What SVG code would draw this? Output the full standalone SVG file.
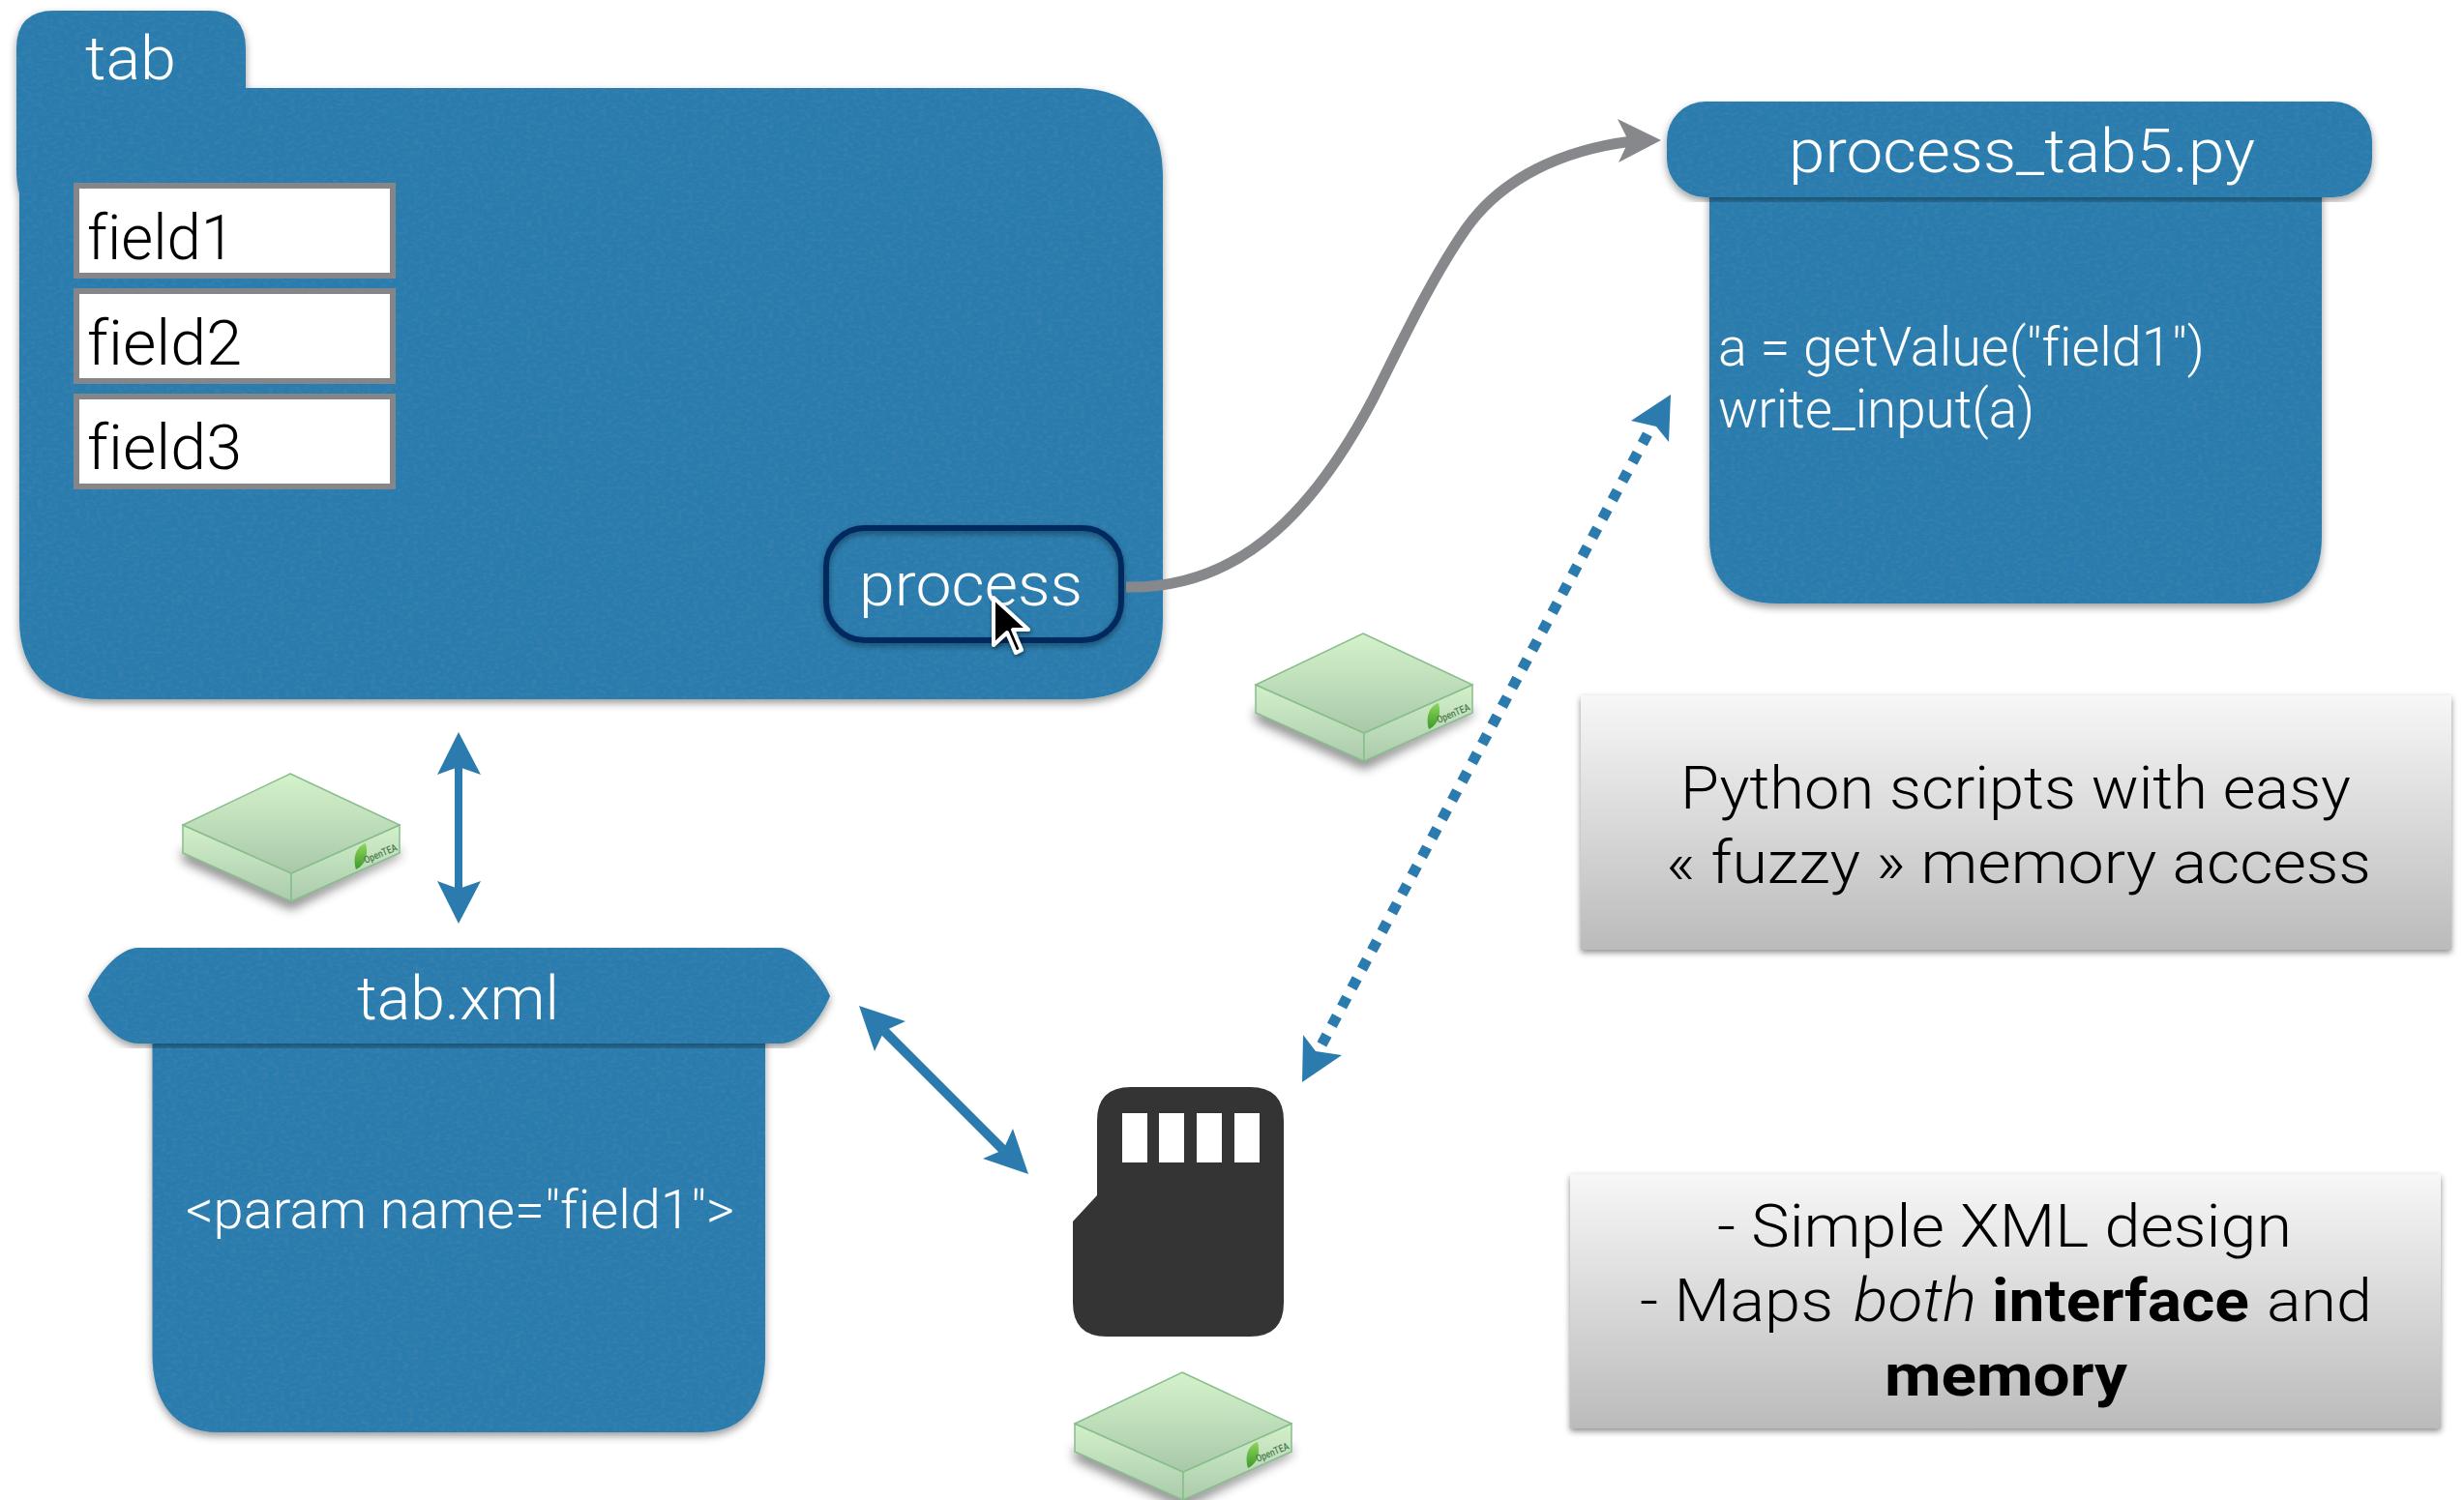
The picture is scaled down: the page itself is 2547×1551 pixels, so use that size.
<svg xmlns="http://www.w3.org/2000/svg" width="2547" height="1551" viewBox="0 0 2547 1551">
<style>
text{font-family:Roboto,"Liberation Sans",Arial,sans-serif;font-weight:300;font-variant-ligatures:none;}
.w{fill:#fff}.k{fill:#000}
.blue{fill:#2c7bae;filter:url(#paper)}
.field{fill:#fff;stroke:#85868a;stroke-width:6}
.slot{fill:#fff}
.tea{font-size:10.5px;font-weight:500;fill:#4f7a4f}
.note{fill:url(#noteGrad);filter:url(#soft)}
.bl{fill:#2c7bae}
</style>
<defs>
<linearGradient id="noteGrad" x1="0" y1="0" x2="0" y2="1"><stop offset="0" stop-color="#f7f7f7"/><stop offset="1" stop-color="#bbbbbb"/></linearGradient>
<linearGradient id="faceTop" x1="0" y1="0" x2="0" y2="1"><stop offset="0" stop-color="#d4f3cb"/><stop offset="1" stop-color="#a9c8a9"/></linearGradient>
<linearGradient id="faceSide" x1="0" y1="0" x2="0" y2="1"><stop offset="0" stop-color="#d2f0c9"/><stop offset="1" stop-color="#abcbac"/></linearGradient>
<linearGradient id="leaf" x1="0" y1="0" x2="0" y2="1"><stop offset="0" stop-color="#8fd65a"/><stop offset="1" stop-color="#3c9a2a"/></linearGradient>
<filter id="paper" x="-5%" y="-5%" width="110%" height="110%">
<feTurbulence type="fractalNoise" baseFrequency="0.18 0.3" numOctaves="4" seed="4" result="n"/>
<feColorMatrix in="n" type="matrix" values="0 0 0 0 0.08  0 0 0 0 0.27  0 0 0 0 0.42  0.7 0 0 0 -0.29" result="t"/>
<feComposite in="t" in2="SourceAlpha" operator="in" result="tex"/>
<feGaussianBlur in="SourceAlpha" stdDeviation="4" result="b"/>
<feOffset in="b" dy="4" result="o"/>
<feComponentTransfer in="o" result="sh"><feFuncA type="linear" slope="0.4"/></feComponentTransfer>
<feMerge><feMergeNode in="sh"/><feMergeNode in="SourceGraphic"/><feMergeNode in="tex"/></feMerge>
</filter>
<filter id="soft" x="-3%" y="-5%" width="106%" height="112%"><feDropShadow dx="0" dy="3" stdDeviation="3" flood-color="#000" flood-opacity="0.45"/></filter>
<filter id="boxShadow" x="-15%" y="-15%" width="130%" height="140%"><feGaussianBlur stdDeviation="6"/></filter>
<filter id="btnShadow" x="-10%" y="-15%" width="120%" height="130%"><feDropShadow dx="0" dy="3" stdDeviation="3" flood-color="#000" flood-opacity="0.4"/></filter>
<filter id="curShadow" x="-30%" y="-30%" width="160%" height="160%"><feDropShadow dx="1" dy="2" stdDeviation="2" flood-color="#000" flood-opacity="0.5"/></filter>
<g id="teaBox">
<path d="M1298,732 L1410,782 L1522,732 L1522,740 L1410,795 L1298,745 Z" fill="#000" opacity="0.5" filter="url(#boxShadow)"/>
<path d="M1298,708 L1410,758 L1410,787 L1298,737 Z" fill="url(#faceSide)" stroke="#88bd8c" stroke-width="1.5"/>
<path d="M1410,758 L1522,708 L1522,737 L1410,787 Z" fill="url(#faceSide)" stroke="#88bd8c" stroke-width="1.5"/>
<path d="M1409,655 L1522,708 L1410,758 L1298,708 Z" fill="url(#faceTop)" stroke="#88bd8c" stroke-width="1.5"/>
<path d="M1487,727 C1475,731 1474,745 1477,754 C1487,749 1490,739 1487,727 Z" fill="url(#leaf)"/>
</g>
</defs>
<rect width="2547" height="1551" fill="#fff"/>

<g id="tab-panel">
<path class="blue" d="M17,50 Q17,11 56,11 L215,11 Q254,11 254,50 L254,91 L1110,91 C1170,91 1202,125 1202,180 L1202,640 C1202,695 1170,723 1110,723 L105,723 C50,723 20,695 20,640 L20,200 Q17,190 17,175 Z"/>
<text class="w" x="88" y="82" font-size="63" textLength="94" lengthAdjust="spacingAndGlyphs">tab</text>
</g>
<g id="field1"><rect class="field" x="79" y="192" width="327" height="93"/><text class="k" x="90" y="268" font-size="64" textLength="153" lengthAdjust="spacingAndGlyphs">field1</text></g>
<g id="field2"><rect class="field" x="79" y="301" width="327" height="93"/><text class="k" x="90" y="377" font-size="64" textLength="160" lengthAdjust="spacingAndGlyphs">field2</text></g>
<g id="field3"><rect class="field" x="79" y="410" width="327" height="93"/><text class="k" x="90" y="485" font-size="64" textLength="160" lengthAdjust="spacingAndGlyphs">field3</text></g>
<g id="process-button">
<rect x="854" y="546" width="305" height="116" rx="40" fill="none" stroke="#002a5f" stroke-width="6" filter="url(#btnShadow)"/>
<text class="w" x="888" y="626" font-size="63" textLength="231" lengthAdjust="spacingAndGlyphs">process</text>
<path d="M1027,618 L1027,667 L1041,654 L1050,675 L1056,672 L1047,651 L1063,651 Z" fill="#000" stroke="#fff" stroke-width="4" stroke-linejoin="round" filter="url(#curShadow)"/>
</g>

<g id="process-script">
<path class="blue" d="M1767,190 L2400,190 L2400,555 Q2400,624 2330,624 L1838,624 Q1767,624 1767,555 Z"/>
<rect class="blue" x="1723" y="105" width="729" height="99" rx="40"/>
<text class="w" x="1849" y="178" font-size="63" textLength="482" lengthAdjust="spacingAndGlyphs">process_tab5.py</text>
<text class="w" font-size="55"><tspan x="1776" y="378" textLength="503" lengthAdjust="spacingAndGlyphs">a = getValue("field1")</tspan><tspan x="1776" y="442" textLength="327" lengthAdjust="spacingAndGlyphs">write_input(a)</tspan></text>
</g>

<g id="tab-xml">
<path class="blue" d="M157.5,1070 L791,1070 L791,1400 C791,1450 770,1481 725,1481 L225,1481 C180,1481 157.5,1450 157.5,1400 Z"/>
<path class="blue" d="M143,980 L806,980 C825,980 850,1010 858,1030 C850,1050 830,1079 806,1079 L143,1079 C120,1079 99,1052 91,1030 C99,1010 122,980 143,980 Z"/>
<text class="w" x="369" y="1054" font-size="63" textLength="209" lengthAdjust="spacingAndGlyphs">tab.xml</text>
<text class="w" x="192" y="1270" font-size="55" textLength="567" lengthAdjust="spacingAndGlyphs">&lt;param name="field1"&gt;</text>
</g>

<g id="memory-card">
<path fill="#343434" fill-rule="evenodd" d="M1169,1124 L1292,1124 Q1327,1124 1327,1159 L1327,1347 Q1327,1382 1292,1382 L1144,1382 Q1109,1382 1109,1347 L1109,1263 L1134,1236 L1134,1159 Q1134,1124 1169,1124 Z"/>
<rect class="slot" x="1160" y="1151" width="26" height="51"/>
<rect class="slot" x="1198" y="1151" width="26" height="51"/>
<rect class="slot" x="1237" y="1151" width="26" height="51"/>
<rect class="slot" x="1276" y="1151" width="26" height="51"/>
</g>

<g id="tea-box-1"><use href="#teaBox"/><text class="tea" transform="translate(1487,748) rotate(-23)" textLength="36" lengthAdjust="spacingAndGlyphs">OpenTEA</text></g>
<g id="tea-box-2" transform="translate(-1109,145)"><use href="#teaBox"/><text class="tea" transform="translate(1487,748) rotate(-23)" textLength="36" lengthAdjust="spacingAndGlyphs">OpenTEA</text></g>
<g id="tea-box-3" transform="translate(-187,764)"><use href="#teaBox"/><text class="tea" transform="translate(1487,748) rotate(-23)" textLength="36" lengthAdjust="spacingAndGlyphs">OpenTEA</text></g>

<g id="note-python">
<rect class="note" x="1634" y="719" width="900" height="263"/>
<text class="k" font-size="62"><tspan x="1737" y="836" textLength="693" lengthAdjust="spacingAndGlyphs">Python scripts with easy</tspan><tspan x="1722" y="913" textLength="729" lengthAdjust="spacingAndGlyphs">« fuzzy » memory access</tspan></text>
</g>
<g id="note-xml">
<rect class="note" x="1623" y="1214" width="900" height="263"/>
<text class="k" font-size="62"><tspan x="1775" y="1289" textLength="594" lengthAdjust="spacingAndGlyphs">- Simple XML design</tspan><tspan x="1695" y="1366" textLength="200" lengthAdjust="spacingAndGlyphs">- Maps</tspan> <tspan x="1916" y="1366" font-style="italic" textLength="127" lengthAdjust="spacingAndGlyphs">both</tspan> <tspan x="2059" y="1366" font-weight="700" textLength="266" lengthAdjust="spacingAndGlyphs">interface</tspan> <tspan x="2343" y="1366" textLength="109" lengthAdjust="spacingAndGlyphs">and</tspan><tspan x="1948" y="1443" font-weight="700" textLength="251" lengthAdjust="spacingAndGlyphs">memory</tspan></text>
</g>

<g id="connectors">
<path d="M1164,607 C1290,610 1365,515 1419,413 C1445,362 1478,290 1515,237 C1552,184 1615,155 1687,146" fill="none" stroke="#87888c" stroke-width="11"/>
<path d="M1717,145 L1672,123 L1681,141 L1681,151 L1673,168 Z" fill="#87888c"/>
<line x1="474" y1="790" x2="474" y2="920" stroke="#2c7bae" stroke-width="8"/>
<path class="bl" d="M474,757 L497,801 L474,793 L452,801 Z"/>
<path class="bl" d="M474,955 L497,911 L474,919 L452,911 Z"/>
<line x1="914" y1="1066" x2="1037" y2="1189" stroke="#2c7bae" stroke-width="10"/>
<path class="bl" d="M888,1040 L936,1056 L914,1066 L904,1087 Z"/>
<path class="bl" d="M1063,1214 L1047,1167 L1037,1189 L1016,1198 Z"/>
<line x1="1703" y1="449" x2="1362" y2="1088" stroke="#2c7bae" stroke-width="11" stroke-dasharray="11 11"/>
<path class="bl" d="M1727,408 L1686,435 L1712,441 L1725,457 Z"/>
<path class="bl" d="M1346,1119 L1387,1091 L1360,1087 L1347,1070 Z"/>
</g>
</svg>
